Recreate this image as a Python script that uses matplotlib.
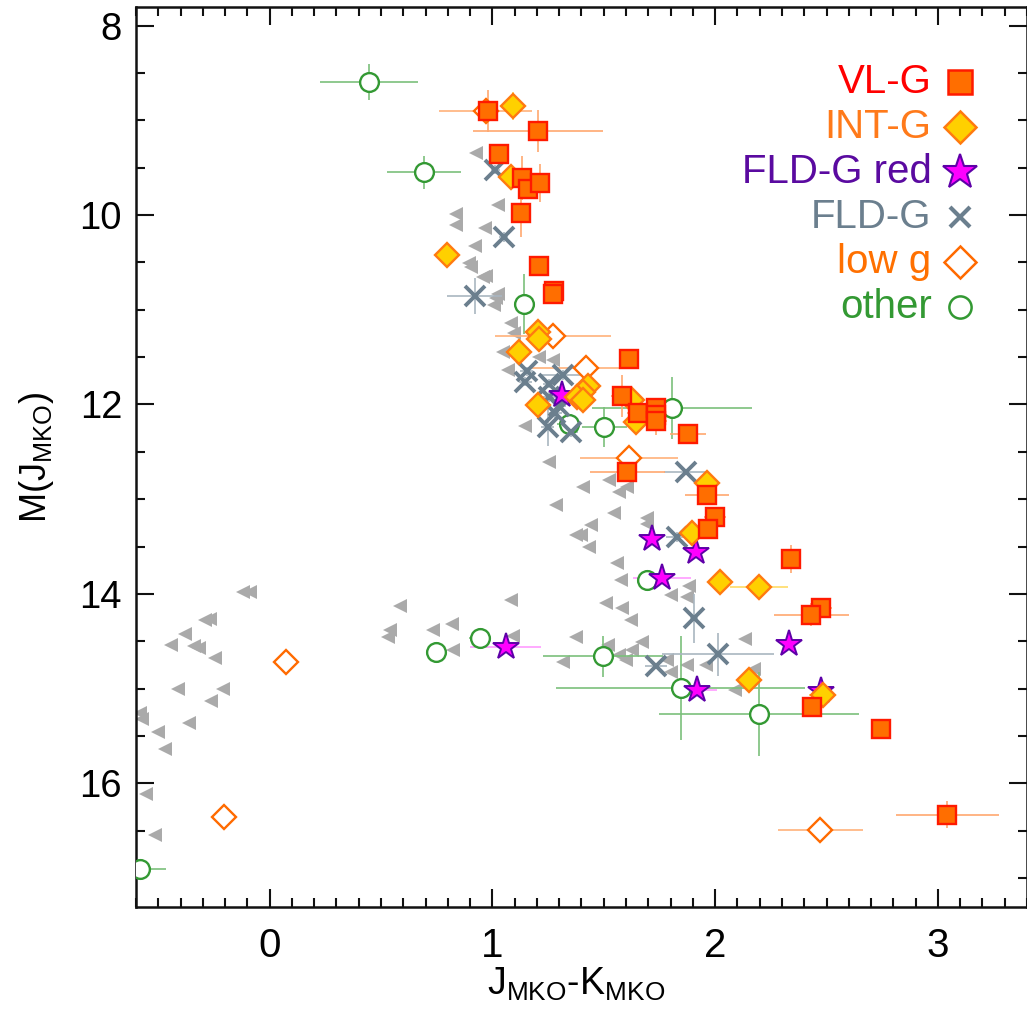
import numpy as np
import matplotlib
matplotlib.use("Agg")
import matplotlib.pyplot as plt
from matplotlib.ticker import MultipleLocator

plt.rcParams["font.family"] = ["Liberation Sans", "DejaVu Sans"]
plt.rcParams["mathtext.fontset"] = "custom"
plt.rcParams["mathtext.rm"] = "Liberation Sans"
plt.rcParams["mathtext.it"] = "Liberation Sans"

# VL-G objects: colour, magnitude and errors
vlg_x = [0.98, 1.205, 1.03, 1.132, 1.162, 1.215, 1.129, 1.208, 1.275, 1.270, 1.614, 1.581,
         1.655, 1.733, 1.733, 1.733, 1.879, 1.606, 1.964, 2.00, 1.969, 2.342, 2.476, 2.432,
         2.434, 2.745, 3.043]
vlg_y = [8.90, 9.11, 9.36, 9.61, 9.72, 9.66, 9.98, 10.54, 10.80, 10.83, 11.52, 11.91,
         12.09, 12.04, 12.11, 12.17, 12.31, 12.71, 12.96, 13.19, 13.32, 13.63, 14.15, 14.22,
         15.19, 15.43, 16.33]
vlg_xerr = [0.05, 0.29, 0.03, 0.03, 0.03, 0.03, 0.03, 0.03, 0.03, 0.03, 0.04, 0.05,
            0.05, 0.05, 0.05, 0.05, 0.08, 0.17, 0.10, 0.05, 0.03, 0.03, 0.05, 0.17,
            0.03, 0.02, 0.23]
vlg_yerr = [0.22, 0.22, 0.05, 0.23, 0.10, 0.20, 0.25, 0.08, 0.10, 0.10, 0.10, 0.22,
            0.15, 0.10, 0.10, 0.15, 0.10, 0.10, 0.08, 0.05, 0.05, 0.15, 0.05, 0.12,
            0.03, 0.02, 0.14]

# INT-G objects
intg_x = [1.091, 1.084, 0.796, 1.203, 1.208, 1.121, 1.427, 1.405, 1.382, 1.405, 1.203,
          1.626, 1.644, 1.964, 1.894, 2.02, 2.196, 2.151, 2.482]
intg_y = [8.846, 9.60, 10.42, 11.23, 11.31, 11.45, 11.81, 11.87, 11.92, 11.95, 12.01,
          11.95, 12.19, 12.83, 13.36, 13.88, 13.93, 14.91, 15.07]
intg_xerr = [0.02, 0.02, 0.0, 0.03, 0.03, 0.03, 0.03, 0.03, 0.03, 0.03, 0.03,
             0.03, 0.03, 0.05, 0.03, 0.05, 0.13, 0.03, 0.06]
intg_yerr = [0.15, 0.05, 0.0, 0.05, 0.05, 0.05, 0.05, 0.05, 0.05, 0.05, 0.05,
             0.05, 0.05, 0.05, 0.05, 0.0, 0.0, 0.05, 0.0]

# FLD-G objects with red colours
fldr_x = [1.312, 1.718, 1.912, 1.76, 1.059, 2.33, 1.917, 2.476]
fldr_y = [11.90, 13.42, 13.56, 13.83, 14.56, 14.53, 15.01, 15.03]
fldr_xerr = [0.03, 0.03, 0.03, 0.13, 0.16, 0.03, 0.09, 0.03]
fldr_yerr = [0.03, 0.03, 0.03, 0.03, 0.05, 0.03, 0.05, 0.03]

# FLD-G objects
fld_x = [1.012, 1.05, 0.92, 1.154, 1.148, 1.256, 1.315, 1.256, 1.30, 1.283, 1.248,
         1.353, 1.87, 1.83, 1.905, 2.013, 1.733]
fld_y = [9.52, 10.23, 10.85, 11.65, 11.76, 11.78, 11.69, 11.92, 12.02, 12.09, 12.24,
         12.29, 12.71, 13.40, 14.26, 14.64, 14.76]
fld_xerr = [0.02, 0.02, 0.125, 0.03, 0.03, 0.03, 0.10, 0.03, 0.03, 0.03, 0.03,
            0.03, 0.10, 0.05, 0.02, 0.25, 0.05]
fld_yerr = [0.05, 0.05, 0.19, 0.05, 0.05, 0.05, 0.05, 0.05, 0.05, 0.05, 0.20,
            0.05, 0.03, 0.05, 0.26, 0.23, 0.03]

# low-gravity objects without a VL-G/INT-G class
lowg_x = [0.97, 1.273, 1.42, 1.614, 0.074, -0.207, 2.472]
lowg_y = [8.90, 11.28, 11.62, 12.57, 14.72, 16.36, 16.49]
lowg_xerr = [0.21, 0.26, 0.24, 0.22, 0.03, 0.0, 0.19]
lowg_yerr = [0.10, 0.12, 0.12, 0.10, 0.0, 0.0, 0.12]

# other objects
oth_x = [0.444, 0.693, 1.142, 1.342, 1.503, 1.805, 1.693, 0.745, 0.945, 1.497, 1.845,
         2.196, -0.583]
oth_y = [8.60, 9.55, 10.94, 12.21, 12.24, 12.04, 13.85, 14.61, 14.47, 14.66, 14.99,
         15.27, 16.91]
oth_xerr = [0.22, 0.165, 0.02, 0.05, 0.10, 0.36, 0.03, 0.0, 0.05, 0.27, 0.56,
            0.45, 0.12]
oth_yerr = [0.19, 0.17, 0.32, 0.05, 0.21, 0.33, 0.0, 0.0, 0.05, 0.22, 0.55,
            0.44, 0.0]

# field-dwarf sequence (no error bars)
seq_x = [0.927, 1.024, 0.835, 0.835, 0.966, 0.92, 0.897, 0.905, 0.957, 0.972, 1.024,
         1.017, 1.009, 1.084, 1.099, 1.047, 1.211, 1.27, 1.069, 1.148, 1.256, 1.405,
         1.524, 1.569, 1.606, 1.286, 1.547, 1.442, 1.696, 1.696, 1.375, 1.40, 1.435,
         1.561, 1.577, 1.882, 1.80, 1.875, 1.509, 1.584, 1.621, 2.136, 1.673, 1.628,
         1.517, 1.569, 1.599, 1.785, 1.875, 1.957, 1.80, 2.091, 2.173,
         -0.12, -0.09, -0.266, -0.289, -0.378, -0.441, -0.341, -0.319, -0.244, -0.411,
         -0.21, -0.262, -0.58, -0.572, -0.36, -0.50, -0.471, -0.553, -0.513,
         0.587, 0.539, 0.532, 0.733, 0.82, 0.823, 1.084, 1.091, 1.315, 1.375]
seq_y = [9.35, 9.89, 9.99, 10.10, 10.14, 10.33, 10.51, 10.55, 10.65, 10.64, 10.83,
         10.88, 10.95, 11.14, 11.25, 11.45, 11.50, 11.53, 11.64, 12.23, 12.61, 12.87,
         12.80, 12.92, 12.87, 13.06, 13.15, 13.27, 13.20, 13.26, 13.38, 13.38, 13.50,
         13.67, 13.85, 13.92, 14.01, 14.03, 14.10, 14.15, 14.28, 14.48, 14.51, 14.59,
         14.54, 14.65, 14.70, 14.70, 14.75, 14.75, 14.82, 15.01, 14.79,
         13.98, 13.98, 14.27, 14.28, 14.42, 14.54, 14.55, 14.57, 14.68, 15.00,
         15.00, 15.13, 15.26, 15.32, 15.36, 15.46, 15.64, 16.11, 16.55,
         14.13, 14.38, 14.46, 14.38, 14.32, 14.59, 14.07, 14.45, 14.72, 14.46]

legend_labels = ["VL-G", "INT-G", "FLD-G red", "FLD-G", "low g", "other"]

fig = plt.figure(figsize=(10.27, 10.22), dpi=100)
ax = fig.add_axes([0.1324, 0.1122, 0.8676, 0.8806])

ax.set_xlim(-0.6, 3.4)
ax.set_ylim(17.31, 7.807)

# grey comparison sequence
ax.plot(seq_x, seq_y, ls="none", marker="<", ms=10, mfc="#aaaaaa", mec="#aaaaaa",
        mew=0, zorder=1)

groups = [
    # x, y, xerr, yerr, errcolour, marker, ms, face, edge, mew, zorder
    (oth_x, oth_y, oth_xerr, oth_yerr, "#7cc07c", "o", 13.5, "white", "#339933", 1.7, 3),
    (fld_x, fld_y, fld_xerr, fld_yerr, "#a9b6c0", "x", 14, "#6b7f8e", "#6b7f8e", 2.8, 4),
    (fldr_x, fldr_y, fldr_xerr, fldr_yerr, "#ff9cff", "*", 20, "#ff00ff", "#5e00a8", 1.4, 5),
    (lowg_x, lowg_y, lowg_xerr, lowg_yerr, "#ffb27a", "D", 12, "white", "#ff6a00", 1.7, 6),
    (intg_x, intg_y, intg_xerr, intg_yerr, "#ffdc66", "D", 12.5, "#ffd000", "#ff7a10", 1.7, 7),
    (vlg_x, vlg_y, vlg_xerr, vlg_yerr, "#ffa870", "s", 13.5, "#ff6e00", "#ff1a00", 1.7, 8),
]

for gx, gy, gxe, gye, ecol, mk, ms, fc, ec, mw, z in groups:
    ax.errorbar(gx, gy, xerr=gxe, yerr=gye, fmt="none", ecolor=ecol, elinewidth=1.2,
                capsize=0, zorder=2)
    ax.plot(gx, gy, ls="none", marker=mk, ms=ms, mfc=fc, mec=ec, mew=mw, zorder=z)

# legend: right-aligned coloured labels with symbols on the right
legend_colors = ["#ff0000", "#ff7a1a", "#5a0aa0", "#6b7f8e", "#ff7000", "#339933"]
legend_markers = [("s", 17, "#ff6e00", "#ff1a00", 1.8),
                  ("D", 16, "#ffd000", "#ff7a10", 1.8),
                  ("*", 26, "#ff00ff", "#5e00a8", 1.5),
                  ("x", 15, "#6b7f8e", "#6b7f8e", 3.0),
                  ("D", 16, "white", "#ff6a00", 1.8),
                  ("o", 16, "white", "#339933", 1.8)]
for i, (lab, col, mk) in enumerate(zip(legend_labels, legend_colors, legend_markers)):
    yy = 0.9167 - i * 0.0500
    ax.text(0.893, yy, lab, transform=ax.transAxes, ha="right", va="center",
            fontsize=29, color=col, zorder=10)
    ax.plot([0.925], [yy], transform=ax.transAxes, ls="none", marker=mk[0], ms=mk[1],
            mfc=mk[2], mec=mk[3], mew=mk[4], clip_on=False, zorder=10)

ax.xaxis.set_major_locator(MultipleLocator(1))
ax.xaxis.set_minor_locator(MultipleLocator(0.1))
ax.yaxis.set_major_locator(MultipleLocator(2))
ax.yaxis.set_minor_locator(MultipleLocator(0.5))
ax.tick_params(which="both", direction="in", top=True, right=True, width=1.5,
               color="#111111")
ax.tick_params(which="major", length=13)
ax.tick_params(which="minor", length=6.5)
ax.tick_params(axis="y", labelsize=27.5, pad=10)
ax.tick_params(axis="x", labelsize=29, pad=14)
for sp in ax.spines.values():
    sp.set_linewidth(1.8)
    sp.set_color("#111111")

ax.set_ylabel(r"M(J$_{\mathrm{MKO}}$)", fontsize=26)
ax.yaxis.set_label_coords(-0.112, 0.5)
ax.yaxis.label.set_va("center")
ax.set_xlabel(r"J$_{\mathrm{MKO}}$-K$_{\mathrm{MKO}}$", fontsize=27)
ax.xaxis.set_label_coords(0.494, -0.086)
ax.xaxis.label.set_va("center")

fig.savefig("out.png", dpi=100)
